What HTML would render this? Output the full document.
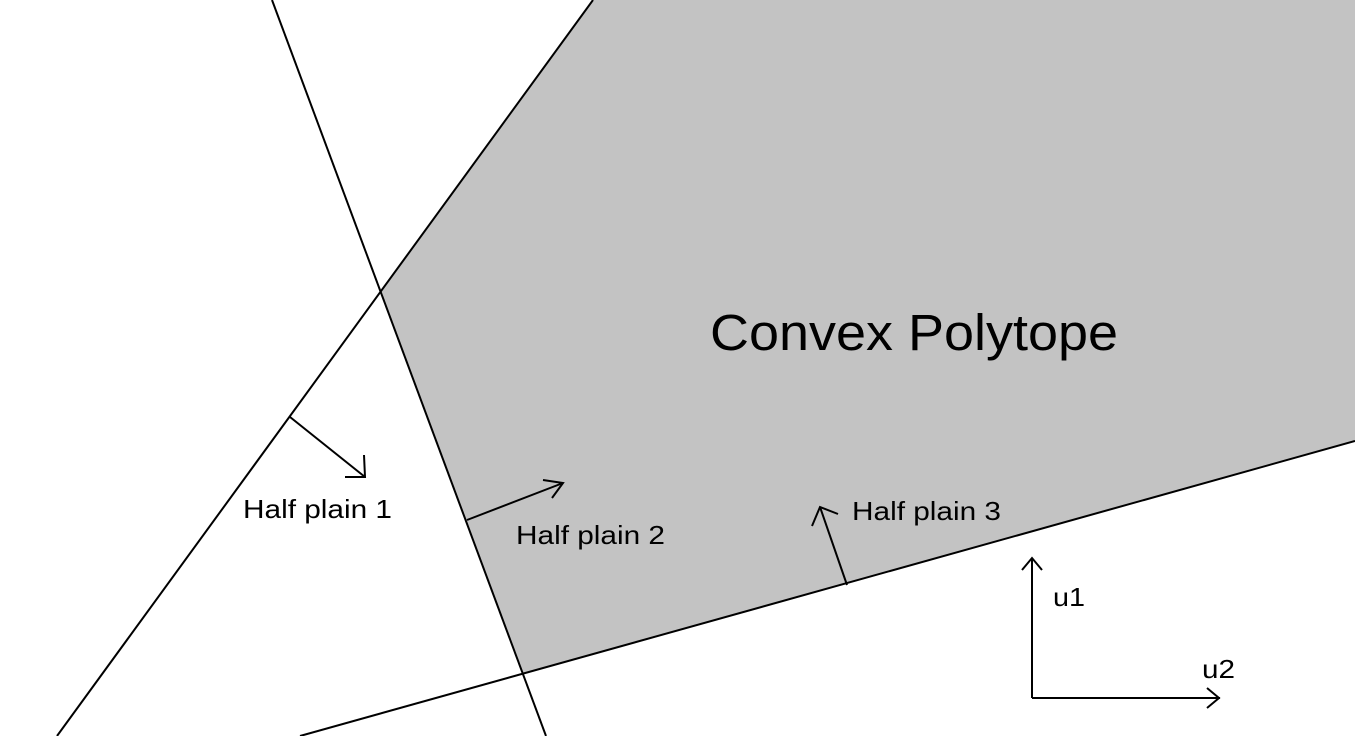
<!DOCTYPE html>
<html><head><meta charset="utf-8"><style>
html,body{margin:0;padding:0;background:#fff;width:1355px;height:736px;overflow:hidden}
svg{display:block}
text{font-family:"Liberation Sans",sans-serif;fill:#000}
</style></head><body>
<svg width="1355" height="736" viewBox="0 0 1355 736" xmlns="http://www.w3.org/2000/svg">
<polygon points="593,0 1355,0 1355,441 523,674 381,290" fill="#c3c3c3"/>
<g stroke="#000" stroke-width="2" fill="none">
<line x1="593" y1="0" x2="57" y2="736"/>
<line x1="272" y1="0" x2="546" y2="736"/>
<line x1="300" y1="736" x2="1355" y2="441"/>
<line x1="290" y1="417" x2="365" y2="477"/>
<polyline points="345,477 365,477 364,455"/>
<line x1="467" y1="520" x2="563" y2="483"/>
<polyline points="543,480 563,483 552,498"/>
<line x1="847" y1="585" x2="820" y2="507"/>
<polyline points="812,526 820,507 838,514"/>
<line x1="1032" y1="698" x2="1032" y2="558"/>
<polyline points="1022,570 1032,558 1042,570"/>
<line x1="1032" y1="698" x2="1220" y2="698"/>
<polyline points="1207,688 1219,698 1207,708"/>
</g>
<text x="710" y="350" font-size="51" textLength="408" lengthAdjust="spacingAndGlyphs">Convex Polytope</text>
<text x="243" y="518" font-size="26" textLength="149" lengthAdjust="spacingAndGlyphs">Half plain 1</text>
<text x="516" y="544" font-size="26" textLength="149" lengthAdjust="spacingAndGlyphs">Half plain 2</text>
<text x="852" y="520" font-size="26" textLength="149" lengthAdjust="spacingAndGlyphs">Half plain 3</text>
<text x="1053" y="606" font-size="26" textLength="32" lengthAdjust="spacingAndGlyphs">u1</text>
<text x="1202" y="678" font-size="26" textLength="33" lengthAdjust="spacingAndGlyphs">u2</text>
</svg>
</body></html>
